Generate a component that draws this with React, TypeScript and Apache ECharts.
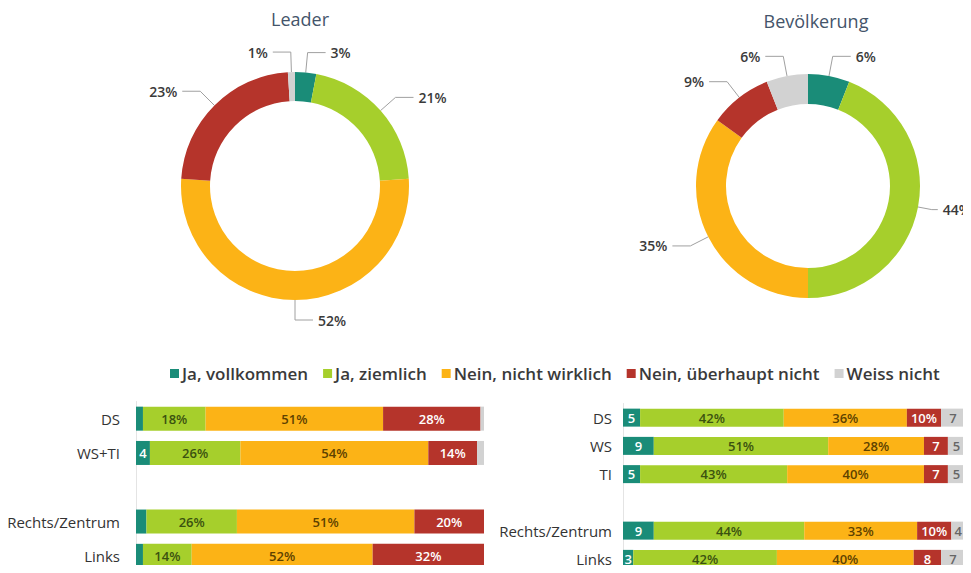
import React, { useEffect, useRef } from "react";
import * as echarts from "echarts";

const answers = ["Ja, vollkommen", "Ja, ziemlich", "Nein, nicht wirklich", "Nein, überhaupt nicht", "Weiss nicht"];
const colors = ["#1a8c78", "#a6cf2c", "#fcb316", "#b5342b", "#d2d2d2"];
const labelColors = ["#ffffff", "#3b5210", "#5e4200", "#ffffff", "#666666"];

const leaderPie = [3, 21, 52, 23, 1];
const bevPie = [6, 44, 35, 9, 6];

const leftCats = ["DS", "WS+TI", "", "Rechts/Zentrum", "Links"];
const leftVals = [
  [2, 4, null, 3, 2],
  [18, 26, null, 26, 14],
  [51, 54, null, 51, 52],
  [28, 14, null, 20, 32],
  [1, 2, null, 0, 0],
];

const rightCats = ["DS", "WS", "TI", "", "Rechts/Zentrum", "Links"];
const rightVals = [
  [5, 9, 5, null, 9, 3],
  [42, 51, 43, null, 44, 42],
  [36, 28, 40, null, 33, 40],
  [10, 7, 7, null, 10, 8],
  [7, 5, 5, null, 4, 7],
];

const FONT = "Open Sans";

function fmt(v: number, minShow: number) {
  if (v == null || v < minShow) return "";
  return v < 10 ? String(v) : v + "%";
}

export default function App() {
  const ref = useRef<HTMLDivElement>(null);
  useEffect(() => {
    const chart = echarts.init(ref.current!, null, { renderer: "svg" });
    const pieSeries = (name: string, vals: number[], center: any, radius: any, lineOverrides: any) => ({
      type: "pie",
      name,
      center,
      radius,
      startAngle: 90,
      clockwise: true,
      avoidLabelOverlap: true,
      label: {
        show: true,
        position: "outside",
        formatter: "{c}%",
        overflow: "none",
        fontFamily: FONT,
        fontSize: 14,
        fontWeight: 600,
        color: "#3a3a3a",
      },
      labelLine: { show: true, length: 20, length2: 18, lineStyle: { color: "#a0a0a0", width: 1 } },
      itemStyle: { borderWidth: 0 },
      emphasis: { disabled: true },
      data: vals.map((v, i) => ({
        name: answers[i],
        value: v,
        itemStyle: { color: colors[i] },
        ...(lineOverrides[i] ? { labelLine: lineOverrides[i] } : {}),
      })),
    });

    const barSeries = (vals: (number | null)[][], axisIdx: number, barWidth: number, minShow: number) =>
      answers.map((a, i) => ({
        type: "bar",
        name: a,
        stack: "s" + axisIdx,
        xAxisIndex: axisIdx,
        yAxisIndex: axisIdx,
        barWidth,
        itemStyle: { color: colors[i] },
        label: {
          show: true,
          position: "inside",
          formatter: (p: any) => fmt(p.value, minShow),
          fontFamily: FONT,
          fontSize: 13,
          fontWeight: 600,
          color: labelColors[i],
        },
        emphasis: { disabled: true },
        data: vals[i],
      }));

    chart.setOption({
      animation: false,
      title: [
        { text: "Leader", left: 295, top: 5, textAlign: "center", textStyle: { fontFamily: FONT, fontSize: 18, fontWeight: "normal", color: "#44546a" } },
        { text: "Bevölkerung", left: 811, top: 7, textAlign: "center", textStyle: { fontFamily: FONT, fontSize: 18, fontWeight: "normal", color: "#44546a" } },
      ],
      legend: {
        data: answers,
        left: 165,
        top: 360,
        icon: "rect",
        itemWidth: 9,
        itemHeight: 9,
        itemGap: 15,
        selectedMode: false,
        textStyle: { fontFamily: FONT, fontSize: 17, fontWeight: 600, color: "#3a3a3a", padding: [0, 0, 0, -2] },
      },
      grid: [
        { left: 136, top: 401.5, width: 348, height: 175 },
        { left: 623, top: 403.5, width: 342, height: 174 },
      ],
      xAxis: [
        { type: "value", gridIndex: 0, min: 0, max: 100, show: false },
        { type: "value", gridIndex: 1, min: 0, max: 100, show: false },
      ],
      yAxis: [
        {
          type: "category", gridIndex: 0, data: leftCats, inverse: true,
          axisLine: { show: true, lineStyle: { color: "#e4e4e4" } }, axisTick: { show: false },
          axisLabel: { fontFamily: FONT, fontSize: 15, color: "#333", margin: 16 },
        },
        {
          type: "category", gridIndex: 1, data: rightCats, inverse: true,
          axisLine: { show: true, lineStyle: { color: "#e4e4e4" } }, axisTick: { show: false },
          axisLabel: { fontFamily: FONT, fontSize: 15, color: "#333", margin: 11 },
        },
      ],
      series: [
        pieSeries("Leader", leaderPie, [295, 186], [85, 114], {}),
        pieSeries("Bevölkerung", bevPie, [808, 186], [82, 112], { 1: { length: 14, length2: 6 } }),
        ...barSeries(leftVals, 0, 24, 4),
        ...barSeries(rightVals, 1, 18, 3),
      ],
    });
    return () => chart.dispose();
  }, []);
  return <div ref={ref} style={{ width: 971, height: 573, margin: -8 }} />;
}
